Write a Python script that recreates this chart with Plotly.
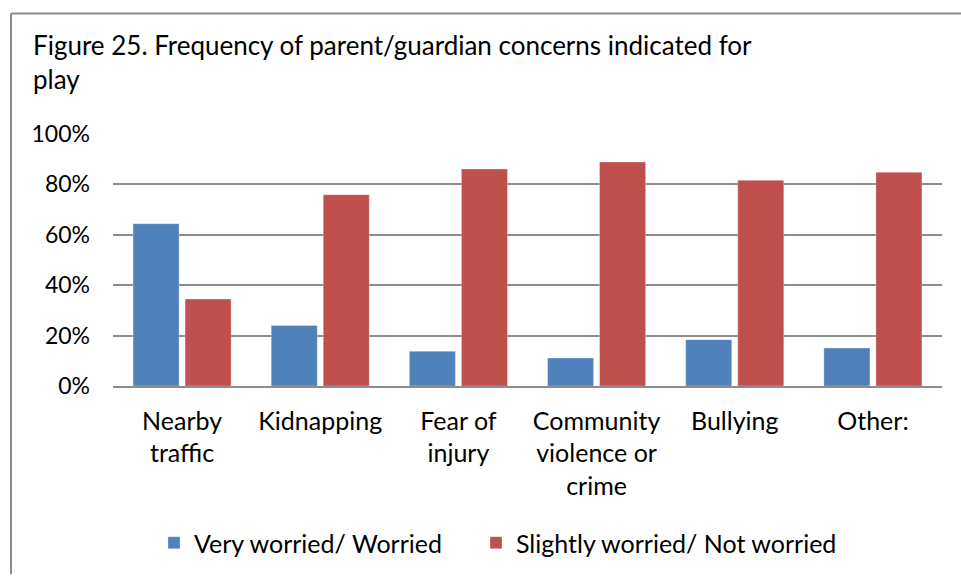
import plotly.graph_objects as go

categories = ["Nearby<br>traffic", "Kidnapping", "Fear of<br>injury",
              "Community<br>violence or<br>crime", "Bullying", "Other:"]
worried = [0.644, 0.240, 0.138, 0.111, 0.184, 0.151]
not_worried = [0.345, 0.759, 0.861, 0.889, 0.816, 0.848]
series_names = ["Very worried/ Worried", "Slightly worried/ Not worried"]
colors = ["#4F81BD", "#C0504D"]
tick_vals = [0, 0.2, 0.4, 0.6, 0.8, 1.0]
tick_text = ["0%", "20%", "40%", "60%", "80%", "100%"]
title_text = "Figure 25. Frequency of parent/guardian concerns indicated for<br>play"

FONT = "Lato"
W, H = 961, 576
L, R, T, B = 113, 19, 134, 189
pw, ph = W - L - R, H - T - B

def px_x(x):
    return (x - L) / pw

def px_y(y):
    return (H - B - y) / ph

legend_ids = ["legend", "legend2"]
legend_left_px = [154, 476]

fig = go.Figure()
for name, vals, col, lid in zip(series_names, [worried, not_worried], colors, legend_ids):
    fig.add_trace(go.Bar(x=categories, y=vals, name=name, legend=lid,
                         marker=dict(color=col, line=dict(width=0.5, color="rgba(255,255,255,0.6)"))))

border = dict(color="#8C8C8C", width=2)
fig.add_shape(type="line", xref="paper", yref="paper",
              x0=px_x(11), x1=px_x(961), y0=px_y(13), y1=px_y(13), line=border, layer="above")
fig.add_shape(type="line", xref="paper", yref="paper",
              x0=px_x(11), x1=px_x(11), y0=px_y(13), y1=px_y(576), line=border, layer="above")

legend_common = dict(orientation="h", xanchor="left", yanchor="middle",
                     y=px_y(543), font=dict(size=25), itemwidth=30,
                     bgcolor="rgba(0,0,0,0)")

fig.update_layout(
    width=W, height=H,
    margin=dict(l=L, r=R, t=T, b=B),
    paper_bgcolor="white", plot_bgcolor="white",
    barmode="group", bargap=0.247, bargroupgap=0.115,
    font=dict(family=FONT, size=25, color="#000000"),
    title=dict(text=title_text, xref="container", yref="container",
               x=33 / W, xanchor="left", y=1 - 55 / H, yanchor="top",
               font=dict(family=FONT, size=26, color="#000000")),
    showlegend=True,
    legend=dict(x=px_x(legend_left_px[0]), **legend_common),
    legend2=dict(x=px_x(legend_left_px[1]), **legend_common),
    yaxis=dict(range=[0, 1], tickvals=tick_vals, ticktext=tick_text,
               showgrid=True, gridcolor="#8C8C8C", gridwidth=1.5,
               zeroline=False, showline=False, ticks="", ticklabelstandoff=22,
               tickfont=dict(size=23), fixedrange=True),
    xaxis=dict(showline=True, linecolor="#8C8C8C", linewidth=1.5, ticks="",
               ticklabelstandoff=12, fixedrange=True),
)

fig.write_html("out.html", config={"displayModeBar": False},
               post_script="document.body.style.margin='0';")
